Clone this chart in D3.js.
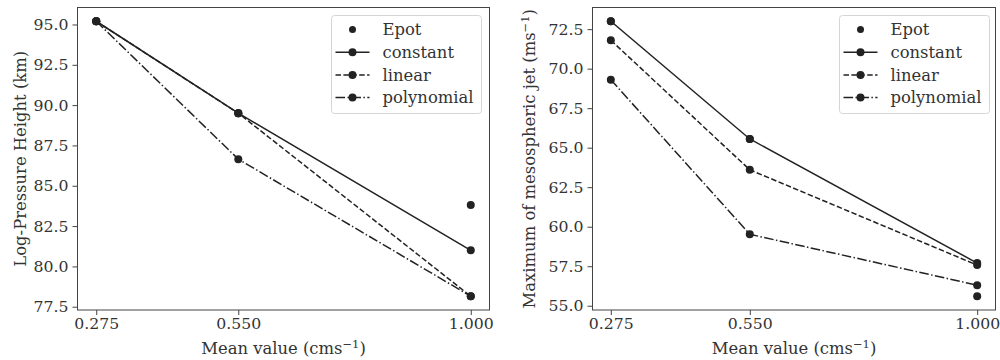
<!DOCTYPE html>
<html>
<head>
<meta charset="utf-8">
<script src="https://cdn.jsdelivr.net/npm/d3@7"></script>
<style>
	body { margin: 0; background: #fff; }
	svg { display: block; }
	text { font-family: "DejaVu Serif", serif; fill: #333; }
	.legend-box { fill: #fff; fill-opacity: 0.8; stroke: #d5d5d5; stroke-width: 1; }
</style>
</head>
<body>
<div class="chart"></div>
<script>
// x positions shared by both panels
var meanValues = [0.275, 0.550, 1.000];
var xTickLabels = ["0.275", "0.550", "1.000"];
var seriesNames = ["Epot", "constant", "linear", "polynomial"];

// left panel: log-pressure height (km)
var heightEpot = [95.2, 89.5, 83.8];
var heightConstant = [95.2, 89.5, 81.0];
var heightLinear = [95.2, 89.5, 78.15];
var heightPolynomial = [95.2, 86.65, 78.15];
var heightTicks = [77.5, 80.0, 82.5, 85.0, 87.5, 90.0, 92.5, 95.0];

// right panel: maximum of mesospheric jet (m/s)
var jetEpot = [73.0, 65.55, 55.6];
var jetConstant = [73.0, 65.55, 57.7];
var jetLinear = [71.8, 63.6, 57.57];
var jetPolynomial = [69.3, 59.52, 56.3];
var jetTicks = [55.0, 57.5, 60.0, 62.5, 65.0, 67.5, 70.0, 72.5];

var dashStyles = {
	"constant": null,
	"linear": "5.5,2.4",
	"polynomial": "9.6,2.4,1.5,2.4"
};

var fontSize = 16.4;
var tickFontSize = 15.7;

var svg = d3.select(".chart")
			.append("svg")
			.attr("width", 1000)
			.attr("height", 360);

drawPanel(svg, {
	left: 77.5, top: 7.5, right: 489.5, bottom: 310,
	series: [heightEpot, heightConstant, heightLinear, heightPolynomial],
	yTicks: heightTicks,
	yLabel: "Log-Pressure Height (km)",
	yLabelX: 20,
	legendX: 331.5
});

drawPanel(svg, {
	left: 592.5, top: 7.5, right: 995.5, bottom: 310,
	series: [jetEpot, jetConstant, jetLinear, jetPolynomial],
	yTicks: jetTicks,
	yLabel: "Maximum of mesospheric jet (ms",
	yLabelSup: true,
	yLabelX: 529,
	legendX: 839.5
});

function paddedDomain(values) {
	var lo = d3.min(values), hi = d3.max(values);
	var pad = (hi - lo) * 0.05;
	return [lo - pad, hi + pad];
}

function drawPanel(svg, o) {
	var allY = [].concat.apply([], o.series);
	var x = d3.scaleLinear().domain(paddedDomain(meanValues)).range([o.left, o.right]);
	var y = d3.scaleLinear().domain(paddedDomain(allY)).range([o.bottom, o.top]);

	var g = svg.append("g");

	// axes
	var xAxis = d3.axisBottom(x)
				.tickValues(meanValues)
				.tickFormat(function(d, i) { return xTickLabels[i]; })
				.tickSize(5).tickPadding(3);
	var yAxis = d3.axisLeft(y)
				.tickValues(o.yTicks)
				.tickFormat(d3.format(".1f"))
				.tickSize(5).tickPadding(4);

	var gx = g.append("g").attr("transform", "translate(0," + o.bottom + ")").call(xAxis);
	var gy = g.append("g").attr("transform", "translate(" + o.left + ",0)").call(yAxis);
	[gx, gy].forEach(function(a) {
		a.select(".domain").remove();
		a.selectAll("line").attr("stroke", "#444").attr("stroke-width", 1);
		a.selectAll("text").attr("font-family", "DejaVu Serif").attr("font-size", tickFontSize).attr("fill", "#333");
	});

	// frame
	g.append("rect")
		.attr("x", o.left).attr("y", o.top)
		.attr("width", o.right - o.left).attr("height", o.bottom - o.top)
		.attr("fill", "none").attr("stroke", "#444").attr("stroke-width", 1);

	// x label
	var xl = g.append("text")
		.attr("x", (o.left + o.right) / 2).attr("y", 354)
		.attr("text-anchor", "middle").attr("font-size", fontSize)
		.text("Mean value (cms");
	xl.append("tspan").attr("dy", -6).attr("font-size", 11.5).text("\u22121");
	xl.append("tspan").attr("dy", 6).text(")");

	// y label
	var yl = g.append("text")
		.attr("transform", "translate(" + o.yLabelX + "," + ((o.top + o.bottom) / 2) + ") rotate(-90)")
		.attr("text-anchor", "middle").attr("dy", "0.35em").attr("font-size", fontSize)
		.text(o.yLabel);
	if (o.yLabelSup) {
		yl.append("tspan").attr("dy", -6).attr("font-size", 11.5).text("\u22121");
		yl.append("tspan").attr("dy", 6).text(")");
	}

	var line = d3.line()
				.x(function(d, i) { return x(meanValues[i]); })
				.y(function(d) { return y(d); });

	// Epot scatter
	g.selectAll(null).data(o.series[0]).enter()
		.append("circle")
		.attr("cx", function(d, i) { return x(meanValues[i]); })
		.attr("cy", function(d) { return y(d); })
		.attr("r", 4).attr("fill", "#222");

	for (var s = 1; s < o.series.length; s++) {
		var name = seriesNames[s];
		g.append("path")
			.datum(o.series[s])
			.attr("d", line)
			.attr("fill", "none")
			.attr("stroke", "#222")
			.attr("stroke-width", 1.5)
			.attr("stroke-dasharray", dashStyles[name]);
		g.selectAll(null).data(o.series[s]).enter()
			.append("circle")
			.attr("cx", function(d, i) { return x(meanValues[i]); })
			.attr("cy", function(d) { return y(d); })
			.attr("r", 4).attr("fill", "#222");
	}

	drawLegend(g, o.legendX, 15.5);
}

function drawLegend(g, lx, ly) {
	var w = 150, h = 98;
	g.append("rect")
		.attr("class", "legend-box")
		.attr("x", lx).attr("y", ly)
		.attr("width", w).attr("height", h)
		.attr("rx", 3).attr("ry", 3);

	for (var i = 0; i < seriesNames.length; i++) {
		var name = seriesNames[i];
		var cy = ly + 14 + i * 22.7;
		var hx0 = lx + 4, hx1 = lx + 38, hxc = (hx0 + hx1) / 2;
		if (i > 0) {
			g.append("line")
				.attr("x1", hx0).attr("x2", hx1)
				.attr("y1", cy).attr("y2", cy)
				.attr("stroke", "#222").attr("stroke-width", 1.5)
				.attr("stroke-dasharray", dashStyles[name]);
		}
		g.append("circle")
			.attr("cx", hxc).attr("cy", cy)
			.attr("r", i == 0 ? 3.5 : 4).attr("fill", "#222");
		g.append("text")
			.attr("x", lx + 51).attr("y", cy)
			.attr("dy", "0.35em").attr("font-size", fontSize)
			.text(name);
	}
}
</script>
</body>
</html>
